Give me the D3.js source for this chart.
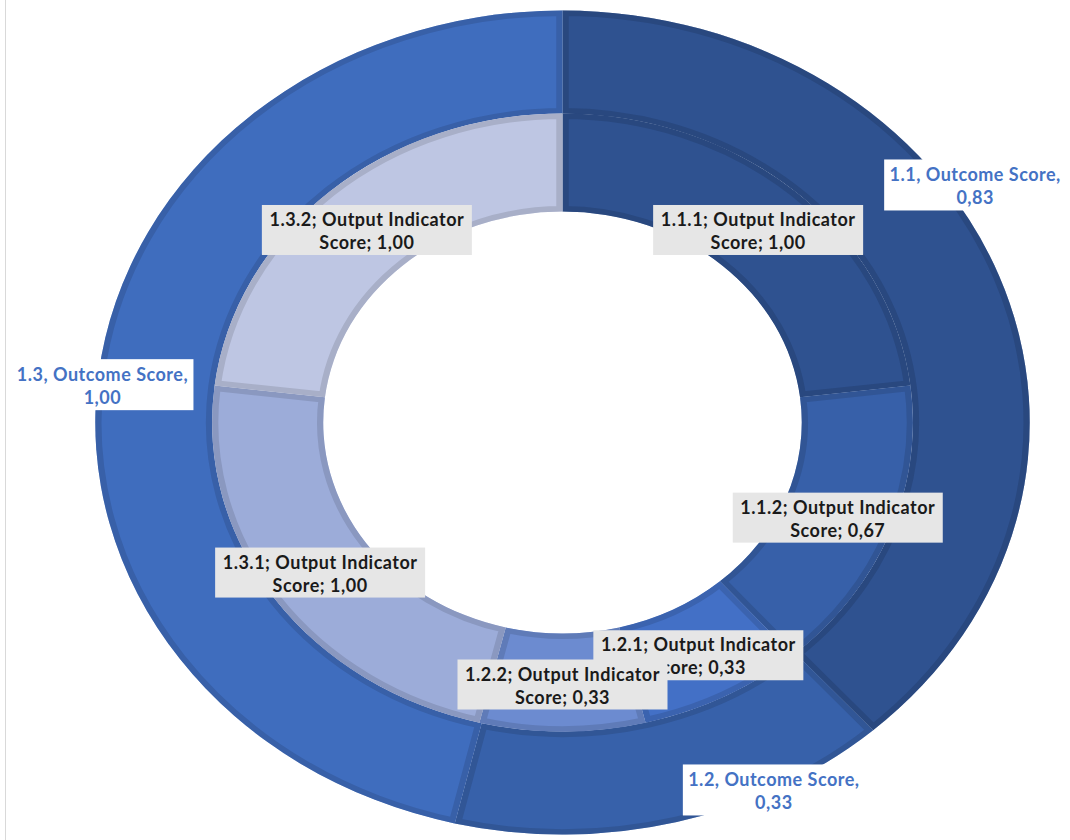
<!DOCTYPE html>
<html><head><meta charset="utf-8">
<script src="https://cdn.jsdelivr.net/npm/d3@7"></script>
<style>html,body{margin:0;padding:0;background:#fff}svg{display:block}</style>
</head><body>
<script>
// ---- data ----
const outerNames = ["1.1", "1.2", "1.3"];
const outerValues = [0.83, 0.33, 1.00];
const outerLabels = ["1.1, Outcome Score,|0,83", "1.2, Outcome Score,|0,33", "1.3, Outcome Score,|1,00"];
const innerNames = ["1.1.1", "1.1.2", "1.2.1", "1.2.2", "1.3.1", "1.3.2"];
const innerValues = [1.00, 0.67, 0.33, 0.33, 1.00, 1.00];
const innerLabels = ["1.1.1; Output Indicator|Score; 1,00", "1.1.2; Output Indicator|Score; 0,67",
  "1.2.1; Output Indicator|Score; 0,33", "1.2.2; Output Indicator|Score; 0,33",
  "1.3.1; Output Indicator|Score; 1,00", "1.3.2; Output Indicator|Score; 1,00"];

// ---- style / layout ----
const W = 1070, H = 840;
const cx = 562.5, cy = 422.5, sx = 1.134;
const rOuter = 412, rMid = 309, rHole = 211;
const outerColors = ["#2F5290", "#3761AA", "#3F6DBE"];
const innerColors = ["#2F5290", "#3760A9", "#4370C6", "#6C8BD0", "#9CACD9", "#BEC6E3"];
// offsets of outer label centers from the outer-edge midpoint of each arc
const outerLabelNudge = [[-24, -91], [97, -32], [4, 10]];

const svg = d3.select("body").append("svg").attr("width", W).attr("height", H);
svg.append("line").attr("x1", 5.5).attr("x2", 5.5).attr("y1", 0).attr("y2", H)
  .attr("stroke", "#d9d9d9").attr("stroke-width", 1);

const defs = svg.append("defs");
const g = svg.append("g").attr("transform", `translate(${cx},${cy}) scale(${sx},1)`);

const pie = d3.pie().sort(null).value(d => d);
const outerArcs = pie(outerValues);
const innerArcs = pie(innerValues);
const arcOuter = d3.arc().innerRadius(rMid).outerRadius(rOuter);
const arcInner = d3.arc().innerRadius(rHole).outerRadius(rMid);

function drawRing(arcs, gen, colors, prefix) {
  arcs.forEach((a, i) => {
    const d = gen(a);
    const id = prefix + i;
    defs.append("clipPath").attr("id", id).append("path").attr("d", d)
      .attr("transform", `translate(${cx},${cy}) scale(${sx},1)`);
    const c = d3.color(colors[i]);
    g.append("path").attr("d", d).attr("fill", colors[i]);
    svg.append("g").attr("clip-path", `url(#${id})`)
      .append("path").attr("d", d).attr("transform", `translate(${cx},${cy}) scale(${sx},1)`)
      .attr("fill", "none").attr("stroke", c.darker(0.35).formatHex())
      .attr("stroke-width", 11);
    g.append("path").attr("d", d).attr("fill", "none")
      .attr("stroke", "#ffffff").attr("stroke-opacity", 0.55)
      .attr("stroke-width", 1).attr("vector-effect", "non-scaling-stroke");
  });
}
drawRing(outerArcs, arcOuter, outerColors, "co");
drawRing(innerArcs, arcInner, innerColors, "ci");

const font = "Lato, 'Open Sans', sans-serif";
function labelBox(x, y, w, h, lines, fill, color) {
  const lg = svg.append("g");
  lg.append("rect").attr("x", x - w / 2).attr("y", y - h / 2).attr("width", w).attr("height", h)
    .attr("fill", fill);
  const t = lg.append("text").attr("text-anchor", "middle").attr("font-family", font)
    .attr("font-weight", "bold").attr("font-size", 18).attr("letter-spacing", 0.5)
    .attr("fill", color);
  lines.forEach((ln, k) => {
    t.append("tspan").attr("x", x).attr("y", y - 4 + k * 23).text(ln);
  });
}

innerArcs.forEach((a, i) => {
  const [px, py] = arcInner.centroid(a);
  labelBox(cx + px * sx, cy + py + 2, 210, 50, innerLabels[i].split("|"), "#E6E6E6", "#1a1a1a");
});

outerArcs.forEach((a, i) => {
  const m = (a.startAngle + a.endAngle) / 2;
  const px = Math.sin(m) * rOuter * sx, py = -Math.cos(m) * rOuter;
  const [nx, ny] = outerLabelNudge[i];
  labelBox(cx + px + nx, cy + py + ny, 182, 51, outerLabels[i].split("|"), "#FFFFFF", "#4472C4");
});
</script>
</body></html>
